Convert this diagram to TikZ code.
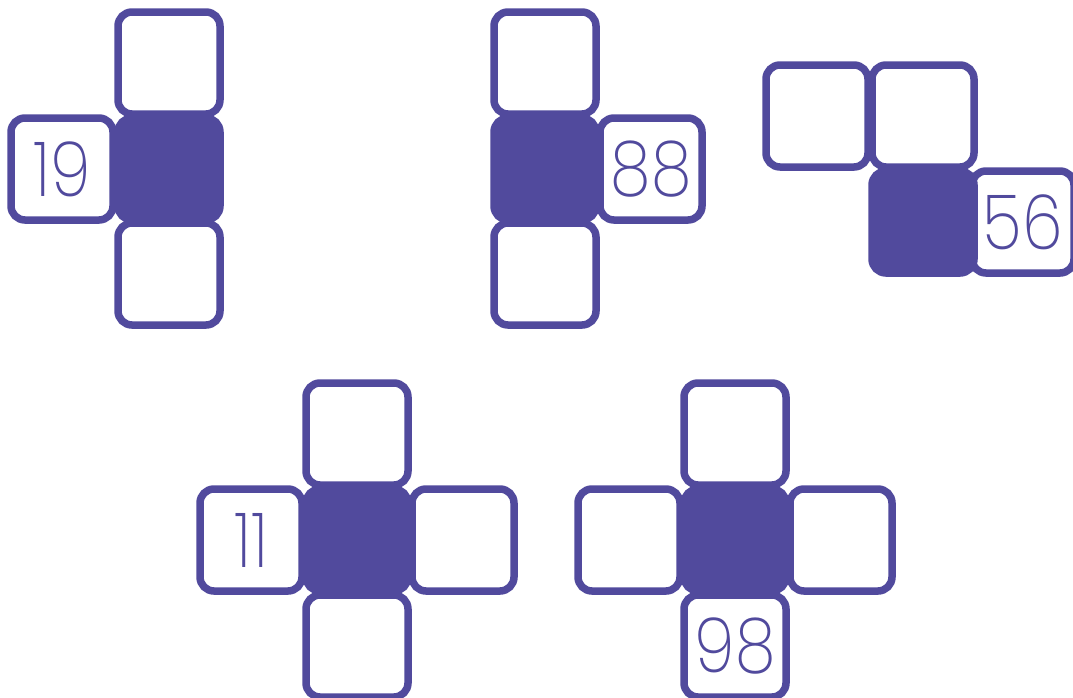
\documentclass[tikz,border=0pt]{standalone}
\usepackage{fontspec}
\usepackage{graphicx}
\newfontfamily\digitfont{Poppins ExtraLight}
\definecolor{cellpurple}{RGB}{81,74,157}
\newcommand\narrowdigits[1]{\scalebox{0.86}[1]{#1}}
\begin{document}
\begin{tikzpicture}[x=1pt,y=-1pt,
  cell/.style={draw=cellpurple, line width=7.5pt, fill=white, rounded corners=14pt,
    minimum width=102pt, minimum height=102pt, inner sep=0pt,
    font=\digitfont\fontsize{76}{76}\selectfont, text=cellpurple},
  core/.style={cell, fill=cellpurple}]
\useasboundingbox (0,0) rectangle (1073,697);
\clip (0,0) rectangle (1073,697);
% figure 1
\node[cell] (a1) at (169,63) {};
\node[cell] (a2) at (62,169) {\narrowdigits{19}};
\node[cell] (a3) at (169,274) {};
\node[core] (a0) at (169,169) {};
% figure 2
\node[cell] (b1) at (545,63) {};
\node[cell] (b2) at (651,169) {\narrowdigits{88}};
\node[cell] (b3) at (545,274) {};
\node[core] (b0) at (545,169) {};
% figure 3
\node[cell] (c1) at (817,116) {};
\node[cell] (c2) at (923,116) {};
\node[cell] (c3) at (1023,222) {\narrowdigits{56}};
\node[core] (c0) at (923,222) {};
% figure 4
\node[cell] (d1) at (357,434) {};
\node[cell] (d2) at (251,540) {\narrowdigits{11}};
\node[cell] (d3) at (463,540) {};
\node[cell] (d4) at (357,646) {};
\node[core] (d0) at (357,540) {};
% figure 5
\node[cell] (e1) at (735,434) {};
\node[cell] (e2) at (629,540) {};
\node[cell] (e3) at (841,540) {};
\node[cell] (e4) at (735,646) {\narrowdigits{98}};
\node[core] (e0) at (735,540) {};
\end{tikzpicture}
\end{document}
